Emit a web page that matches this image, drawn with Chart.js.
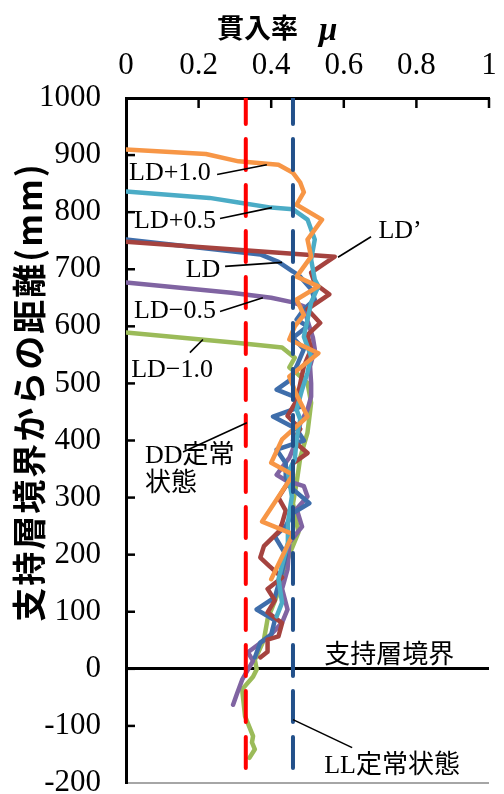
<!DOCTYPE html>
<html>
<head>
<meta charset="utf-8">
<script src="https://cdn.jsdelivr.net/npm/chart.js@4.4.1/dist/chart.umd.min.js"></script>
<style>
  html, body { margin: 0; padding: 0; background: #ffffff; }
  #wrap { width: 504px; height: 794px; }
</style>
</head>
<body>
<div id="wrap"><canvas id="c" width="504" height="794"></canvas></div>
<script>
// Axis ticks
const xTickValues = [0, 0.2, 0.4, 0.6, 0.8, 1];
const yTickValues = [-200, -100, 0, 100, 200, 300, 400, 500, 600, 700, 800, 900, 1000];

// Penetration ratio μ against distance from the bearing-layer boundary (mm)
const ldPlus10Depth = [910, 902, 889, 883, 869, 852, 835, 813, 787, 752, 722, 687, 670, 647, 620, 600, 577, 553, 512, 480, 442, 402, 361, 340, 258, 236, 157];
const ldPlus10Mu    = [0, 0.22, 0.31, 0.42, 0.46, 0.48, 0.49, 0.47, 0.54, 0.50, 0.51, 0.47, 0.53, 0.47, 0.49, 0.465, 0.45, 0.53, 0.45, 0.47, 0.50, 0.43, 0.40, 0.46, 0.375, 0.46, 0.40];

const ldPlus05Depth = [836, 825, 817, 808, 805, 787, 752, 717, 682, 670, 642, 612, 582, 547, 519, 489, 454, 437, 402, 367, 344, 302, 256, 221, 157, 116, 92];
const ldPlus05Mu    = [0, 0.23, 0.31, 0.40, 0.46, 0.50, 0.52, 0.51, 0.52, 0.53, 0.51, 0.50, 0.49, 0.51, 0.50, 0.485, 0.47, 0.48, 0.47, 0.465, 0.446, 0.457, 0.446, 0.446, 0.42, 0.43, 0.415];

const ldPrimeDepth = [748, 722, 694, 675, 656, 630, 606, 585, 560, 530, 500, 470, 443, 420, 400, 378, 360, 330, 300, 277, 255, 240, 215, 195, 180, 160, 140, 120, 99, 80, 57, 51, 30, 20];
const ldPrimeMu    = [0, 0.575, 0.51, 0.52, 0.56, 0.50, 0.535, 0.50, 0.51, 0.49, 0.48, 0.47, 0.445, 0.48, 0.46, 0.50, 0.46, 0.45, 0.42, 0.44, 0.43, 0.42, 0.38, 0.37, 0.395, 0.43, 0.39, 0.41, 0.39, 0.43, 0.42, 0.39, 0.39, 0.37];

const ldDepth = [752, 726, 713, 696, 687, 665, 647, 630, 612, 600, 580, 560, 530, 505, 489, 475, 459, 442, 420, 400, 384, 360, 337, 320, 290, 273, 250, 232, 200, 170, 125, 104, 85, 60, 46, 20];
const ldMu    = [0, 0.37, 0.42, 0.46, 0.48, 0.51, 0.52, 0.49, 0.47, 0.50, 0.46, 0.49, 0.47, 0.45, 0.415, 0.47, 0.48, 0.405, 0.47, 0.49, 0.415, 0.44, 0.44, 0.45, 0.505, 0.46, 0.44, 0.41, 0.44, 0.43, 0.41, 0.36, 0.41, 0.40, 0.37, 0.355];

const ldMinus05Depth = [677, 659, 650, 642, 635, 610, 580, 560, 530, 500, 477, 454, 430, 400, 370, 340, 330, 320, 302, 280, 249, 221, 174, 140, 104, 81, 57, 29, 14, -19, -45, -63];
const ldMinus05Mu    = [0, 0.29, 0.40, 0.46, 0.49, 0.50, 0.515, 0.52, 0.507, 0.51, 0.51, 0.50, 0.48, 0.47, 0.45, 0.415, 0.44, 0.49, 0.50, 0.47, 0.485, 0.45, 0.445, 0.43, 0.445, 0.43, 0.395, 0.336, 0.35, 0.32, 0.305, 0.295];

const ldMinus10Depth = [589, 571, 563, 545, 528, 518, 501, 466, 414, 370, 326, 290, 239, 200, 160, 127, 87, 51, 16, -1, -14, -36, -83, -118, -129, -141, -156];
const ldMinus10Mu    = [0, 0.31, 0.43, 0.465, 0.45, 0.47, 0.50, 0.51, 0.50, 0.48, 0.47, 0.46, 0.475, 0.45, 0.43, 0.415, 0.39, 0.38, 0.355, 0.36, 0.35, 0.32, 0.328, 0.35, 0.347, 0.355, 0.34];

// Steady-state reference ratios
const ddSteadyMu = 0.33;
const llSteadyMu = 0.46;

const serif = "'Liberation Serif', 'DejaVu Serif', serif";
const cjk = "'Noto Sans CJK JP', sans-serif";
const mixed = "'Liberation Serif', 'Noto Sans CJK JP', serif";

function pts(depth, mu) { return depth.map((d, i) => ({ x: mu[i], y: d })); }
function vline(mu) { return [{ x: mu, y: yTickValues[yTickValues.length - 1] }, { x: mu, y: yTickValues[0] }]; }

function series(label, depth, mu, color) {
  return { label, data: pts(depth, mu), borderColor: color, borderWidth: 4.5, pointRadius: 0, tension: 0, fill: false, showLine: true, borderJoinStyle: 'round', borderCapStyle: 'round' };
}
function dashed(label, mu, color) {
  return { label, data: vline(mu), borderColor: color, borderWidth: 4, borderDash: [31, 15], borderDashOffset: 5, pointRadius: 0, showLine: true, fill: false, borderCapStyle: 'round' };
}

// Series labels and leader lines, in data coordinates (μ, mm)
const seriesLabels = [
  { text: 'LD+1.0', mu: 0.121, mm: 869, align: 'center' },
  { text: 'LD+0.5', mu: 0.135, mm: 785, align: 'center' },
  { text: 'LD',     mu: 0.212, mm: 698, align: 'center' },
  { text: 'LD−0.5', mu: 0.135, mm: 627, align: 'center' },
  { text: 'LD−1.0', mu: 0.127, mm: 524, align: 'center' },
  { text: 'LD’',    mu: 0.755, mm: 766, align: 'center' },
  { text: 'DD定常', mu: 0.052, mm: 372, align: 'left' },
  { text: '状態',   mu: 0.052, mm: 323, align: 'left' },
  { text: '支持層境界', mu: 0.725, mm: 23, align: 'center' },
  { text: 'LL定常状態', mu: 0.733, mm: -171, align: 'center' }
];
const leaders = [
  [0.251, 866, 0.388, 883],
  [0.259, 789, 0.402, 808],
  [0.273, 705, 0.430, 712],
  [0.259, 626, 0.377, 650],
  [0.176, 554, 0.212, 577],
  [0.675, 757, 0.584, 721],
  [0.157, 380, 0.333, 431],
  [0.460, -89, 0.623, -138]
];

const decorations = {
  id: 'decorations',
  afterDatasetsDraw(chart) {
    const { ctx, scales: { x, y } } = chart;
    ctx.save();
    ctx.strokeStyle = '#000';
    ctx.lineWidth = 1.6;
    leaders.forEach(l => {
      ctx.beginPath();
      ctx.moveTo(x.getPixelForValue(l[0]), y.getPixelForValue(l[1]));
      ctx.lineTo(x.getPixelForValue(l[2]), y.getPixelForValue(l[3]));
      ctx.stroke();
    });
    ctx.fillStyle = '#000';
    ctx.textBaseline = 'middle';
    ctx.font = '26px ' + mixed;
    seriesLabels.forEach(s => {
      ctx.textAlign = s.align;
      ctx.fillText(s.text, x.getPixelForValue(s.mu), y.getPixelForValue(s.mm));
    });
    ctx.restore();
  },
  afterDraw(chart) {
    const { ctx, chartArea: a, scales: { x, y } } = chart;
    ctx.save();
    // inward tick marks
    ctx.strokeStyle = '#000';
    ctx.lineWidth = 2.5;
    yTickValues.forEach(v => {
      if (v === yTickValues[0] || v === yTickValues[yTickValues.length - 1]) return;
      const py = y.getPixelForValue(v);
      ctx.beginPath(); ctx.moveTo(a.left, py); ctx.lineTo(a.left + 9, py); ctx.stroke();
    });
    xTickValues.forEach(v => {
      if (v === xTickValues[0]) return;
      const px = x.getPixelForValue(v);
      ctx.beginPath(); ctx.moveTo(px, a.top); ctx.lineTo(px, a.top + 10); ctx.stroke();
    });
    // axis titles
    ctx.fillStyle = '#000';
    ctx.textBaseline = 'middle';
    ctx.textAlign = 'left';
    ctx.font = 'bold 27px ' + cjk;
    ctx.fillText('貫入率', 217, 28);
    ctx.font = 'italic bold 33px ' + serif;
    ctx.fillText('μ', 319, 31);
    ctx.translate(29, 392);
    ctx.rotate(-Math.PI / 2);
    ctx.textAlign = 'center';
    ctx.font = 'bold 34px ' + cjk;
    ctx.letterSpacing = '2px';
    ctx.fillText('支持層境界からの距離(mm)', 0, 0);
    ctx.restore();
  }
};

function noPad(s) { s.paddingTop = 0; s.paddingBottom = 0; s.paddingLeft = 0; s.paddingRight = 0; }

new Chart(document.getElementById('c'), {
  type: 'scatter',
  data: {
    datasets: [
      dashed('LL定常状態', llSteadyMu, '#22508a'),
      dashed('DD定常状態', ddSteadyMu, '#ff0000'),
      series('LD+1.0', ldPlus10Depth, ldPlus10Mu, '#f79646'),
      series('LD+0.5', ldPlus05Depth, ldPlus05Mu, '#4bacc6'),
      series('LD’', ldPrimeDepth, ldPrimeMu, '#a5433f'),
      series('LD', ldDepth, ldMu, '#3f6eab'),
      series('LD−0.5', ldMinus05Depth, ldMinus05Mu, '#8064a2'),
      series('LD−1.0', ldMinus10Depth, ldMinus10Mu, '#9bbb59')
    ]
  },
  options: {
    responsive: false,
    animation: false,
    devicePixelRatio: 1,
    layout: { padding: { left: 0, top: 0, right: 15, bottom: 11 } },
    plugins: { legend: { display: false }, tooltip: { enabled: false }, title: { display: false } },
    scales: {
      x: {
        type: 'linear', position: 'top', min: 0, max: 1,
        afterBuildTicks: s => { s.ticks = xTickValues.map(v => ({ value: v })); },
        afterFit: s => { s.height = 98; noPad(s); },
        ticks: { color: '#000', font: { family: serif, size: 31 }, padding: 14, autoSkip: false, maxRotation: 0,
                 callback: v => String(v) },
        grid: { display: true, drawTicks: false, color: 'rgba(0,0,0,0)' },
        border: { display: true, color: '#000', width: 3 }
      },
      y: {
        type: 'linear', position: 'left', min: -200, max: 1000,
        afterBuildTicks: s => { s.ticks = yTickValues.map(v => ({ value: v })); },
        afterFit: s => { s.width = 126; noPad(s); },
        ticks: { color: '#000', font: { family: serif, size: 31 }, padding: 25, autoSkip: false,
                 callback: v => String(v) },
        grid: {
          display: true, drawTicks: false,
          color: c => c.tick.value === 0 ? '#000' : (c.tick.value === -200 ? '#a6a6a6' : 'rgba(0,0,0,0)'),
          lineWidth: c => c.tick.value === 0 ? 3 : 2
        },
        border: { display: true, color: '#000', width: 3 }
      }
    }
  },
  plugins: [decorations]
});
</script>
</body>
</html>
